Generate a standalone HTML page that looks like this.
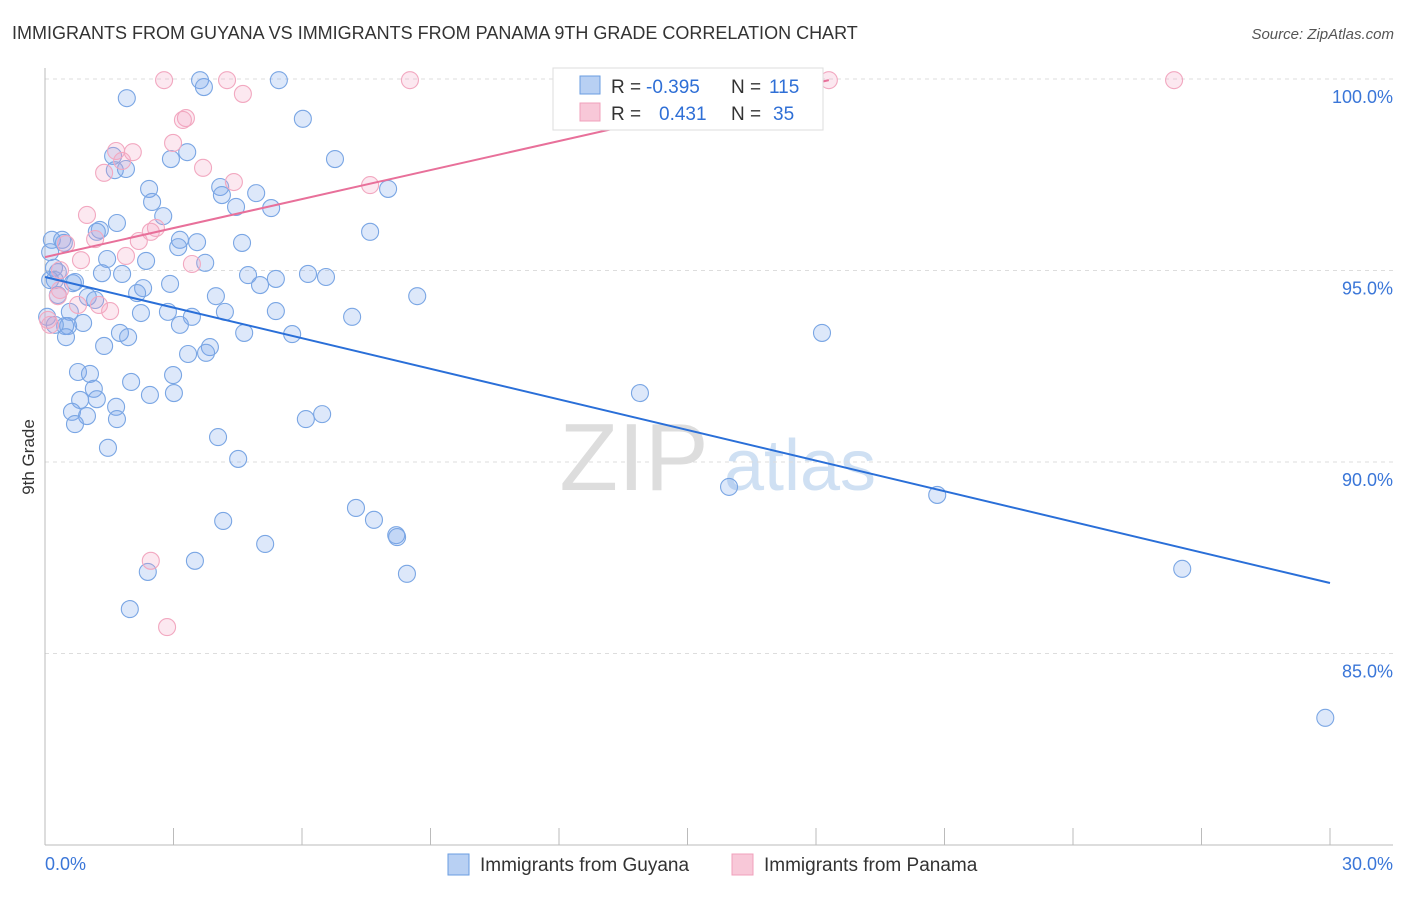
<!DOCTYPE html>
<html><head><meta charset="utf-8"><style>
body{margin:0;background:#fff;font-family:"Liberation Sans",sans-serif;}
svg text{font-family:"Liberation Sans",sans-serif;}
</style></head><body>
<svg id="c" width="1406" height="892" viewBox="0 0 1406 892">
<text x="12" y="39" font-size="18" fill="#333">IMMIGRANTS FROM GUYANA VS IMMIGRANTS FROM PANAMA 9TH GRADE CORRELATION CHART</text>
<text x="1394" y="39" font-size="15" fill="#555" font-style="italic" text-anchor="end">Source: ZipAtlas.com</text>
<text x="34" y="457" font-size="17" fill="#333" transform="rotate(-90 34 457)" text-anchor="middle">9th Grade</text>
<g><text x="634" y="490" font-size="96" fill="#ddd" font-family="Liberation Serif" text-anchor="middle">ZIP</text><text x="800" y="490" font-size="72" fill="#cfe0f3" text-anchor="middle">atlas</text></g>
<g id="grid"></g><g id="axes"></g><g id="pts"></g><g id="trend"></g>
<g>
<rect x="553" y="68" width="270" height="62" fill="#fff" stroke="#ddd"/>
<rect x="580" y="76" width="20" height="18" fill="#b8d0f3" stroke="#6a9de0"/>
<rect x="580" y="103" width="20" height="18" fill="#f8c8d8" stroke="#f0a0bb"/>
<text x="611" y="93" font-size="19" fill="#333">R =</text>
<text x="646" y="93" font-size="19" fill="#2f6fd6">-0.395</text>
<text x="731" y="93" font-size="19" fill="#333">N =</text>
<text x="769" y="93" font-size="19" fill="#2f6fd6">115</text>
<text x="611" y="120" font-size="19" fill="#333">R =</text>
<text x="659" y="120" font-size="19" fill="#2f6fd6">0.431</text>
<text x="731" y="120" font-size="19" fill="#333">N =</text>
<text x="773" y="120" font-size="19" fill="#2f6fd6">35</text>
</g>
<g>
<rect x="448" y="854" width="21" height="21" fill="#b8d0f3" stroke="#6a9de0"/>
<text x="480" y="871" font-size="19" fill="#333">Immigrants from Guyana</text>
<rect x="732" y="854" width="21" height="21" fill="#f8c8d8" stroke="#f0a0bb"/>
<text x="764" y="871" font-size="19" fill="#333">Immigrants from Panama</text>
</g>
</svg>
<script>
const yTicks=[100,95,90,85];
const yTickLabels=["100.0%","95.0%","90.0%","85.0%"];
const xTickLabels=["0.0%","30.0%"];
const guyanaX=[1.91,3.62,3.71,5.46,6.02,6.77,1.59,1.63,1.89,2.43,2.50,2.94,3.32,4.09,4.13,4.46,4.93,5.28,8.01,2.76,1.68,1.28,1.21,0.16,0.40,0.44,0.12,3.15,3.55,4.60,7.59,3.11,3.74,1.45,2.36,0.21,0.30,1.33,1.80,4.74,5.39,6.14,6.56,5.02,0.23,0.65,2.92,2.29,2.15,1.00,1.17,3.99,8.69,0.30,2.87,2.24,3.43,4.20,5.39,7.17,0.05,0.58,0.47,0.89,0.54,3.15,1.75,1.94,4.65,5.77,18.14,0.49,1.38,3.85,3.34,3.76,0.77,1.05,2.99,2.01,1.14,0.82,1.21,3.01,2.45,1.66,0.63,0.98,1.68,6.09,6.47,0.70,4.04,1.47,4.51,13.89,15.97,20.83,7.26,7.68,4.16,8.20,8.22,5.14,3.50,2.40,8.45,26.55,1.98,29.89,0.12,0.23,0.70];
const guyanaY=[99.50,99.97,99.79,99.97,98.96,97.91,97.99,97.62,97.65,97.13,96.79,97.91,98.09,97.18,96.97,96.66,97.02,96.63,97.13,96.42,96.24,96.06,96.01,95.80,95.80,95.72,95.48,95.80,95.74,95.72,96.01,95.61,95.20,95.30,95.25,95.07,94.96,94.93,94.91,94.88,94.78,94.91,94.83,94.62,94.75,94.67,94.65,94.54,94.41,94.31,94.23,94.33,94.33,94.36,93.92,93.89,93.79,93.92,93.94,93.79,93.79,93.92,93.55,93.63,93.55,93.58,93.37,93.26,93.37,93.34,93.37,93.26,93.03,93.00,92.82,92.85,92.35,92.30,92.27,92.09,91.91,91.62,91.64,91.80,91.75,91.44,91.31,91.20,91.12,91.12,91.25,90.99,90.65,90.37,90.08,91.80,89.35,89.14,88.80,88.49,88.46,88.09,88.04,87.86,87.42,87.13,87.08,87.21,86.16,83.32,94.75,93.58,94.70];
const panamaX=[2.78,4.25,8.52,18.30,26.36,4.62,3.29,3.22,2.99,1.66,2.05,1.80,3.69,1.38,4.41,7.59,0.98,2.59,2.47,1.17,0.49,2.19,1.89,3.43,0.84,0.35,0.30,0.77,1.26,1.52,0.12,2.47,2.85,0.35,0.07];
const panamaY=[99.97,99.97,99.97,99.97,99.97,99.61,98.98,98.93,98.33,98.12,98.09,97.86,97.68,97.55,97.31,97.23,96.45,96.11,96.01,95.82,95.69,95.77,95.38,95.17,95.27,95.01,94.33,94.10,94.10,93.94,93.58,87.42,85.69,94.49,93.71];
const guyanaTrend=[[0,94.83],[30,86.84]];
const panamaTrend=[[0,95.35],[18.3,99.97]];
const NS="http://www.w3.org/2000/svg";
const X=v=>45+v*(1285/30), Y=v=>79+(100-v)*38.3;
function mk(tag,at,parent){const e=document.createElementNS(NS,tag);for(const k in at)e.setAttribute(k,at[k]);document.getElementById(parent).appendChild(e);return e;}
yTicks.forEach((t,i)=>{
 const l=mk('line',{x1:45,x2:1393,y1:Y(t),y2:Y(t),stroke:'#ddd','stroke-dasharray':'4 4'},'grid');
 
 
 const tx=mk('text',{x:1393,y:Y(t)+24,'font-size':18,fill:'#3a76d8','text-anchor':'end'},'grid');
 tx.textContent=yTickLabels[i];
 
 
});
let a=mk('line',{x1:45,x2:1393,y1:845,y2:845,stroke:'#bbb'},'axes');


a=mk('line',{x1:45,x2:45,y1:68,y2:845,stroke:'#bbb'},'axes');


for(let i=0;i<=10;i++){const t=mk('line',{x1:X(i*3),x2:X(i*3),y1:828,y2:845,stroke:'#bbb'},'axes');
 
 }
[[0,'start',45],[30,'end',1393]].forEach((d,i)=>{const t=mk('text',{x:d[2],y:870,'font-size':18,fill:'#3a76d8','text-anchor':d[1]},'axes');t.textContent=xTickLabels[i];
 
 });
guyanaX.forEach((x,i)=>{const c=mk('circle',{cx:X(x),cy:Y(guyanaY[i]),r:8.5,fill:'rgba(120,165,235,0.25)',stroke:'#7aa6e4','stroke-width':1.1},'pts');
 
 });
panamaX.forEach((x,i)=>{const c=mk('circle',{cx:X(x),cy:Y(panamaY[i]),r:8.5,fill:'rgba(245,165,195,0.25)',stroke:'#f2a8c0','stroke-width':1.1},'pts');
 
 });
let t=mk('line',{x1:X(guyanaTrend[0][0]),y1:Y(guyanaTrend[0][1]),x2:X(guyanaTrend[1][0]),y2:Y(guyanaTrend[1][1]),stroke:'#2a6fd8','stroke-width':2},'trend');


t=mk('line',{x1:X(panamaTrend[0][0]),y1:Y(panamaTrend[0][1]),x2:X(panamaTrend[1][0]),y2:Y(panamaTrend[1][1]),stroke:'#e8709a','stroke-width':2},'trend');


</script>
</body></html>
